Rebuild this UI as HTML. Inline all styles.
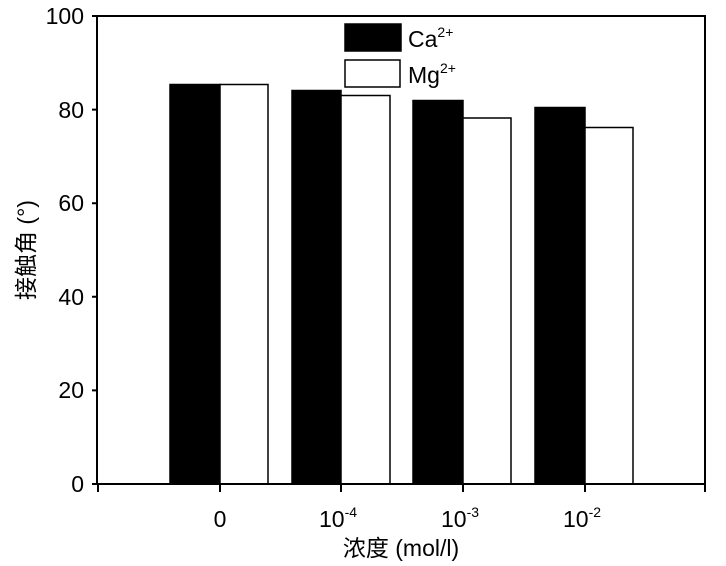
<!DOCTYPE html>
<html><head><meta charset="utf-8"><style>body{margin:0;background:#fff}</style></head><body>
<svg width="726" height="561" viewBox="0 0 726 561" xmlns="http://www.w3.org/2000/svg" font-family="Liberation Sans, Arial, sans-serif">
<rect width="726" height="561" fill="#fff"/>
<g stroke="#000" stroke-width="1.5">
<rect x="170" y="84.5" width="50" height="399.5" fill="#000"/>
<rect x="220" y="84.5" width="48" height="399.5" fill="#fff"/>
<rect x="292" y="90.5" width="49" height="393.5" fill="#000"/>
<rect x="341" y="95.5" width="49" height="388.5" fill="#fff"/>
<rect x="413" y="100.5" width="50" height="383.5" fill="#000"/>
<rect x="463" y="118" width="48" height="366" fill="#fff"/>
<rect x="535" y="107.5" width="50" height="376.5" fill="#000"/>
<rect x="585" y="127.5" width="48" height="356.5" fill="#fff"/>
<rect x="345" y="24" width="56" height="27" fill="#000"/>
<rect x="345" y="60" width="55" height="27" fill="#fff"/>
</g>
<g stroke="#000" stroke-width="2" fill="none">
<rect x="97" y="16" width="608" height="468"/>
<path d="M92 16H97M92 109.6H97M92 203.2H97M92 296.8H97M92 390.4H97M92 484H97"/>
<path d="M98 484V492M220 484V492M341 484V492M463 484V492M585 484V492M705 484V492"/>
</g>
<g font-size="23" text-anchor="end" fill="#000">
<text x="84" y="24">100</text>
<text x="84" y="118">80</text>
<text x="84" y="211">60</text>
<text x="84" y="305">40</text>
<text x="84" y="398">20</text>
<text x="84" y="492">0</text>
</g>
<g font-size="23" text-anchor="middle" fill="#000">
<text x="220" y="527">0</text>
<text x="338" y="527">10<tspan font-size="14" dy="-10">-4</tspan></text>
<text x="460" y="527">10<tspan font-size="14" dy="-10">-3</tspan></text>
<text x="582" y="527">10<tspan font-size="14" dy="-10">-2</tspan></text>
</g>
<text x="408" y="47" font-size="23">Ca<tspan font-size="14" dy="-10">2+</tspan></text>
<text x="408" y="83" font-size="23">Mg<tspan font-size="14" dy="-10">2+</tspan></text>
<text x="401" y="556" font-size="23" text-anchor="middle" font-family="Liberation Sans, Noto Sans CJK SC, sans-serif">浓度 (mol/l)</text>
<text transform="translate(34,250) rotate(-90)" font-size="23" text-anchor="middle" font-family="Liberation Sans, Noto Sans CJK SC, sans-serif">接触角 (°)</text>
</svg>
</body></html>
